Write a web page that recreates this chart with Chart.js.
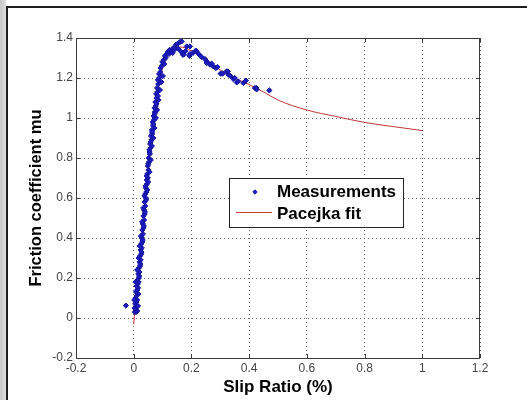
<!DOCTYPE html>
<html lang="en">
<head>
  <meta charset="UTF-8">
  <title>Slip ratio vs friction</title>
  <script src="https://cdn.jsdelivr.net/npm/chart.js"></script>
  <style>
    html, body { margin: 0; padding: 0; background: #fff; }
    #wrap { width: 527px; height: 400px; position: relative; }
  </style>
</head>
<body>
  <div id="wrap"><canvas id="muChart"></canvas></div>

  <script>
    // measured slip ratio / friction pairs
    const measSlip = [
      -0.027,
      0.004, 0.008, 0.012, 0.003, 0.007, 0.010, 0.005, 0.009, 0.012, 0.006,
      0.010, 0.013, 0.008, 0.012, 0.015, 0.010, 0.014, 0.017, 0.013, 0.018,
      0.016, 0.020, 0.018, 0.022, 0.020, 0.024, 0.022, 0.026, 0.024, 0.028,
      0.026, 0.030, 0.028, 0.032, 0.030, 0.034, 0.032, 0.036, 0.034, 0.038,
      0.036, 0.040, 0.038, 0.042, 0.040, 0.044, 0.042, 0.046, 0.045, 0.049,
      0.047, 0.051, 0.049, 0.053, 0.052, 0.056, 0.054, 0.058, 0.057, 0.061,
      0.060, 0.064, 0.063, 0.067, 0.066, 0.070, 0.069, 0.073, 0.072, 0.076,
      0.075, 0.079, 0.078, 0.082, 0.081, 0.085, 0.084, 0.088, 0.088, 0.092,
      0.093, 0.097, 0.099, 0.104, 0.108, 0.114,
      0.015, 0.002, 0.016, 0.006, 0.019, 0.012, 0.023, 0.017, 0.027, 0.021,
      0.031, 0.025, 0.035, 0.029, 0.039, 0.033, 0.043, 0.037, 0.047, 0.041,
      0.050, 0.045, 0.055, 0.050, 0.059, 0.055, 0.063, 0.059, 0.068, 0.064,
      0.072, 0.068, 0.077, 0.073, 0.081, 0.079, 0.086, 0.084, 0.091, 0.096,
      0.101, 0.106, 0.111,
      0.118, 0.122, 0.124, 0.128, 0.132, 0.135, 0.137, 0.140, 0.142, 0.147,
      0.152, 0.155, 0.160, 0.165, 0.166, 0.170, 0.174, 0.180, 0.184, 0.193,
      0.195, 0.195, 0.205, 0.215, 0.218, 0.227, 0.235, 0.247, 0.253, 0.253,
      0.264, 0.270, 0.276, 0.285, 0.290, 0.301, 0.308, 0.322, 0.326, 0.328,
      0.335, 0.345, 0.350, 0.357, 0.362, 0.380, 0.389, 0.420, 0.425, 0.426,
      0.470
    ];
    const measMu = [
      0.062,
      0.03, 0.03, 0.035, 0.05, 0.05, 0.06, 0.07, 0.08, 0.09, 0.10,
      0.11, 0.12, 0.13, 0.14, 0.15, 0.16, 0.17, 0.18, 0.19, 0.20,
      0.22, 0.23, 0.25, 0.26, 0.28, 0.29, 0.31, 0.32, 0.34, 0.35,
      0.37, 0.38, 0.40, 0.42, 0.44, 0.45, 0.47, 0.49, 0.51, 0.52,
      0.54, 0.56, 0.58, 0.60, 0.62, 0.63, 0.65, 0.67, 0.69, 0.70,
      0.72, 0.74, 0.76, 0.78, 0.80, 0.82, 0.84, 0.85, 0.87, 0.89,
      0.91, 0.92, 0.94, 0.96, 0.98, 0.99, 1.01, 1.03, 1.05, 1.06,
      1.08, 1.10, 1.12, 1.13, 1.15, 1.17, 1.19, 1.20, 1.22, 1.23,
      1.25, 1.26, 1.28, 1.29, 1.31, 1.32,
      0.06, 0.09, 0.12, 0.18, 0.21, 0.24, 0.27, 0.30, 0.33, 0.36,
      0.39, 0.41, 0.46, 0.48, 0.53, 0.55, 0.59, 0.61, 0.64, 0.66,
      0.68, 0.71, 0.73, 0.77, 0.79, 0.83, 0.86, 0.88, 0.90, 0.93,
      0.95, 0.97, 1.00, 1.02, 1.04, 1.07, 1.09, 1.11, 1.14, 1.18,
      1.21, 1.27, 1.30,
      1.33, 1.32, 1.34, 1.33, 1.34, 1.325, 1.35, 1.34, 1.35, 1.367,
      1.371, 1.345, 1.38, 1.33, 1.383, 1.317, 1.317, 1.335, 1.358, 1.31,
      1.32, 1.358, 1.325, 1.337, 1.333, 1.317, 1.305, 1.295, 1.283, 1.275,
      1.267, 1.272, 1.258, 1.25, 1.255, 1.222, 1.222, 1.233, 1.233, 1.217,
      1.21, 1.195, 1.2, 1.178, 1.183, 1.175, 1.187, 1.15, 1.15, 1.143,
      1.138
    ];

    // fitted tyre curve
    const fitSlip = [0, 0.004, 0.009, 0.018, 0.030, 0.041, 0.053, 0.062, 0.071, 0.081,
      0.091, 0.100, 0.110, 0.120, 0.130, 0.145, 0.160, 0.180, 0.200, 0.250,
      0.300, 0.350, 0.400, 0.450, 0.500, 0.600, 0.700, 0.800, 0.900, 1.000];
    const fitMu = [-0.03, 0.04, 0.11, 0.20, 0.40, 0.60, 0.80, 0.91, 1.00, 1.10,
      1.19, 1.25, 1.29, 1.32, 1.34, 1.352, 1.355, 1.35, 1.335, 1.29,
      1.24, 1.20, 1.167, 1.13, 1.09, 1.04, 1.008, 0.978, 0.957, 0.937];

    const xTitle = "Slip Ratio (%)";
    const yTitle = "Friction coefficient mu";

    const toXY = (xs, ys) => xs.map((x, i) => ({ x, y: ys[i] }));
    const fmt = v => String(Number(v.toFixed(2)));

    // page frame, plot box, inward ticks and legend (matlab look)
    const matlabLook = {
      id: "matlabLook",
      beforeDraw(chart) {
        const ctx = chart.ctx;
        ctx.save();
        ctx.fillStyle = "#fff";
        ctx.fillRect(0, 0, chart.width, chart.height);
        const g = ctx.createLinearGradient(0, 0, 7, 0);
        g.addColorStop(0, "#c8c8c8");
        g.addColorStop(1, "#e2e2e2");
        ctx.fillStyle = g;
        ctx.fillRect(0, 0, 6, chart.height);
        ctx.fillStyle = "#1e1e1e";
        ctx.fillRect(6, 6, 2, chart.height - 6);
        ctx.fillRect(6, 6, chart.width - 6, 2);
        ctx.restore();
      },
      afterDraw(chart) {
        const ctx = chart.ctx;
        const a = chart.chartArea;
        const xs = chart.scales.x, ys = chart.scales.y;
        ctx.save();
        ctx.strokeStyle = "#3a3a3a";
        ctx.lineWidth = 1;
        ctx.strokeRect(a.left + 0.5, a.top + 0.5, a.right - a.left - 1, a.bottom - a.top);
        ctx.beginPath();
        xs.ticks.forEach(t => {
          const px = Math.round(xs.getPixelForValue(t.value)) + 0.5;
          ctx.moveTo(px, a.bottom); ctx.lineTo(px, a.bottom - 4);
          ctx.moveTo(px, a.top); ctx.lineTo(px, a.top + 4);
        });
        ys.ticks.forEach(t => {
          const py = Math.round(ys.getPixelForValue(t.value)) + 0.5;
          ctx.moveTo(a.left, py); ctx.lineTo(a.left + 4, py);
          ctx.moveTo(a.right, py); ctx.lineTo(a.right - 4, py);
        });
        ctx.stroke();

        // legend box
        const meas = chart.data.datasets[1], fit = chart.data.datasets[0];
        const bx = 229, by = 178, bw = 174, bh = 49;
        ctx.fillStyle = "#fff";
        ctx.fillRect(bx, by, bw, bh);
        ctx.strokeStyle = "#222";
        ctx.strokeRect(bx + 0.5, by + 0.5, bw, bh);
        ctx.fillStyle = meas.backgroundColor;
        ctx.strokeStyle = meas.borderColor;
        Chart.helpers.drawPoint(ctx, {
          pointStyle: meas.pointStyle, radius: 2.2, rotation: 0, borderWidth: 1
        }, 255, 192);
        ctx.beginPath();
        ctx.strokeStyle = fit.borderColor;
        ctx.lineWidth = 1;
        ctx.moveTo(236, 212.5); ctx.lineTo(272, 212.5);
        ctx.stroke();
        ctx.fillStyle = "#000";
        ctx.font = "bold 17px 'Liberation Sans', Arial, sans-serif";
        ctx.textBaseline = "middle";
        ctx.fillText(meas.label, 277, 192);
        ctx.fillText(fit.label, 277, 214);
        ctx.restore();
      }
    };

    new Chart(document.getElementById("muChart"), {
      type: "scatter",
      data: {
        datasets: [
          {
            label: "Pacejka fit",
            data: toXY(fitSlip, fitMu),
            showLine: true,
            borderColor: "#c03838",
            borderWidth: 1,
            pointRadius: 0,
            cubicInterpolationMode: "monotone",
            order: 1
          },
          {
            label: "Measurements",
            data: toXY(measSlip, measMu),
            pointStyle: "rectRot",
            pointRadius: 2.6,
            borderWidth: 1,
            borderColor: "#14149e",
            backgroundColor: "#1c1cc0",
            order: 0
          }
        ]
      },
      options: {
        responsive: true,
        maintainAspectRatio: false,
        animation: false,
        layout: { padding: { left: 0, top: 38, right: 47, bottom: 0 } },
        plugins: { legend: { display: false }, tooltip: { enabled: false } },
        scales: {
          x: {
            type: "linear",
            min: -0.2, max: 1.2,
            afterFit: s => { s.height = 42; },
            ticks: {
              stepSize: 0.2, padding: 3, color: "#444",
              font: { family: "'Liberation Sans', Arial, sans-serif", size: 12 },
              callback: fmt
            },
            grid: { color: "#666", lineWidth: 1, drawTicks: false },
            border: { display: false, dash: [1, 3] },
            title: {
              display: true, text: xTitle, color: "#000",
              font: { family: "'Liberation Sans', Arial, sans-serif", size: 17, weight: "bold" },
              padding: { top: 0, bottom: 2 }
            }
          },
          y: {
            type: "linear",
            min: -0.2, max: 1.4,
            afterFit: s => { s.width = 76; },
            ticks: {
              stepSize: 0.2, padding: 3, color: "#444",
              font: { family: "'Liberation Sans', Arial, sans-serif", size: 12 },
              callback: fmt
            },
            grid: { color: "#666", lineWidth: 1, drawTicks: false },
            border: { display: false, dash: [1, 3] },
            title: {
              display: true, text: yTitle, color: "#000",
              font: { family: "'Liberation Sans', Arial, sans-serif", size: 16.5, weight: "bold" },
              padding: { top: 27, bottom: 0 }
            }
          }
        }
      },
      plugins: [matlabLook]
    });
  </script>
</body>
</html>
